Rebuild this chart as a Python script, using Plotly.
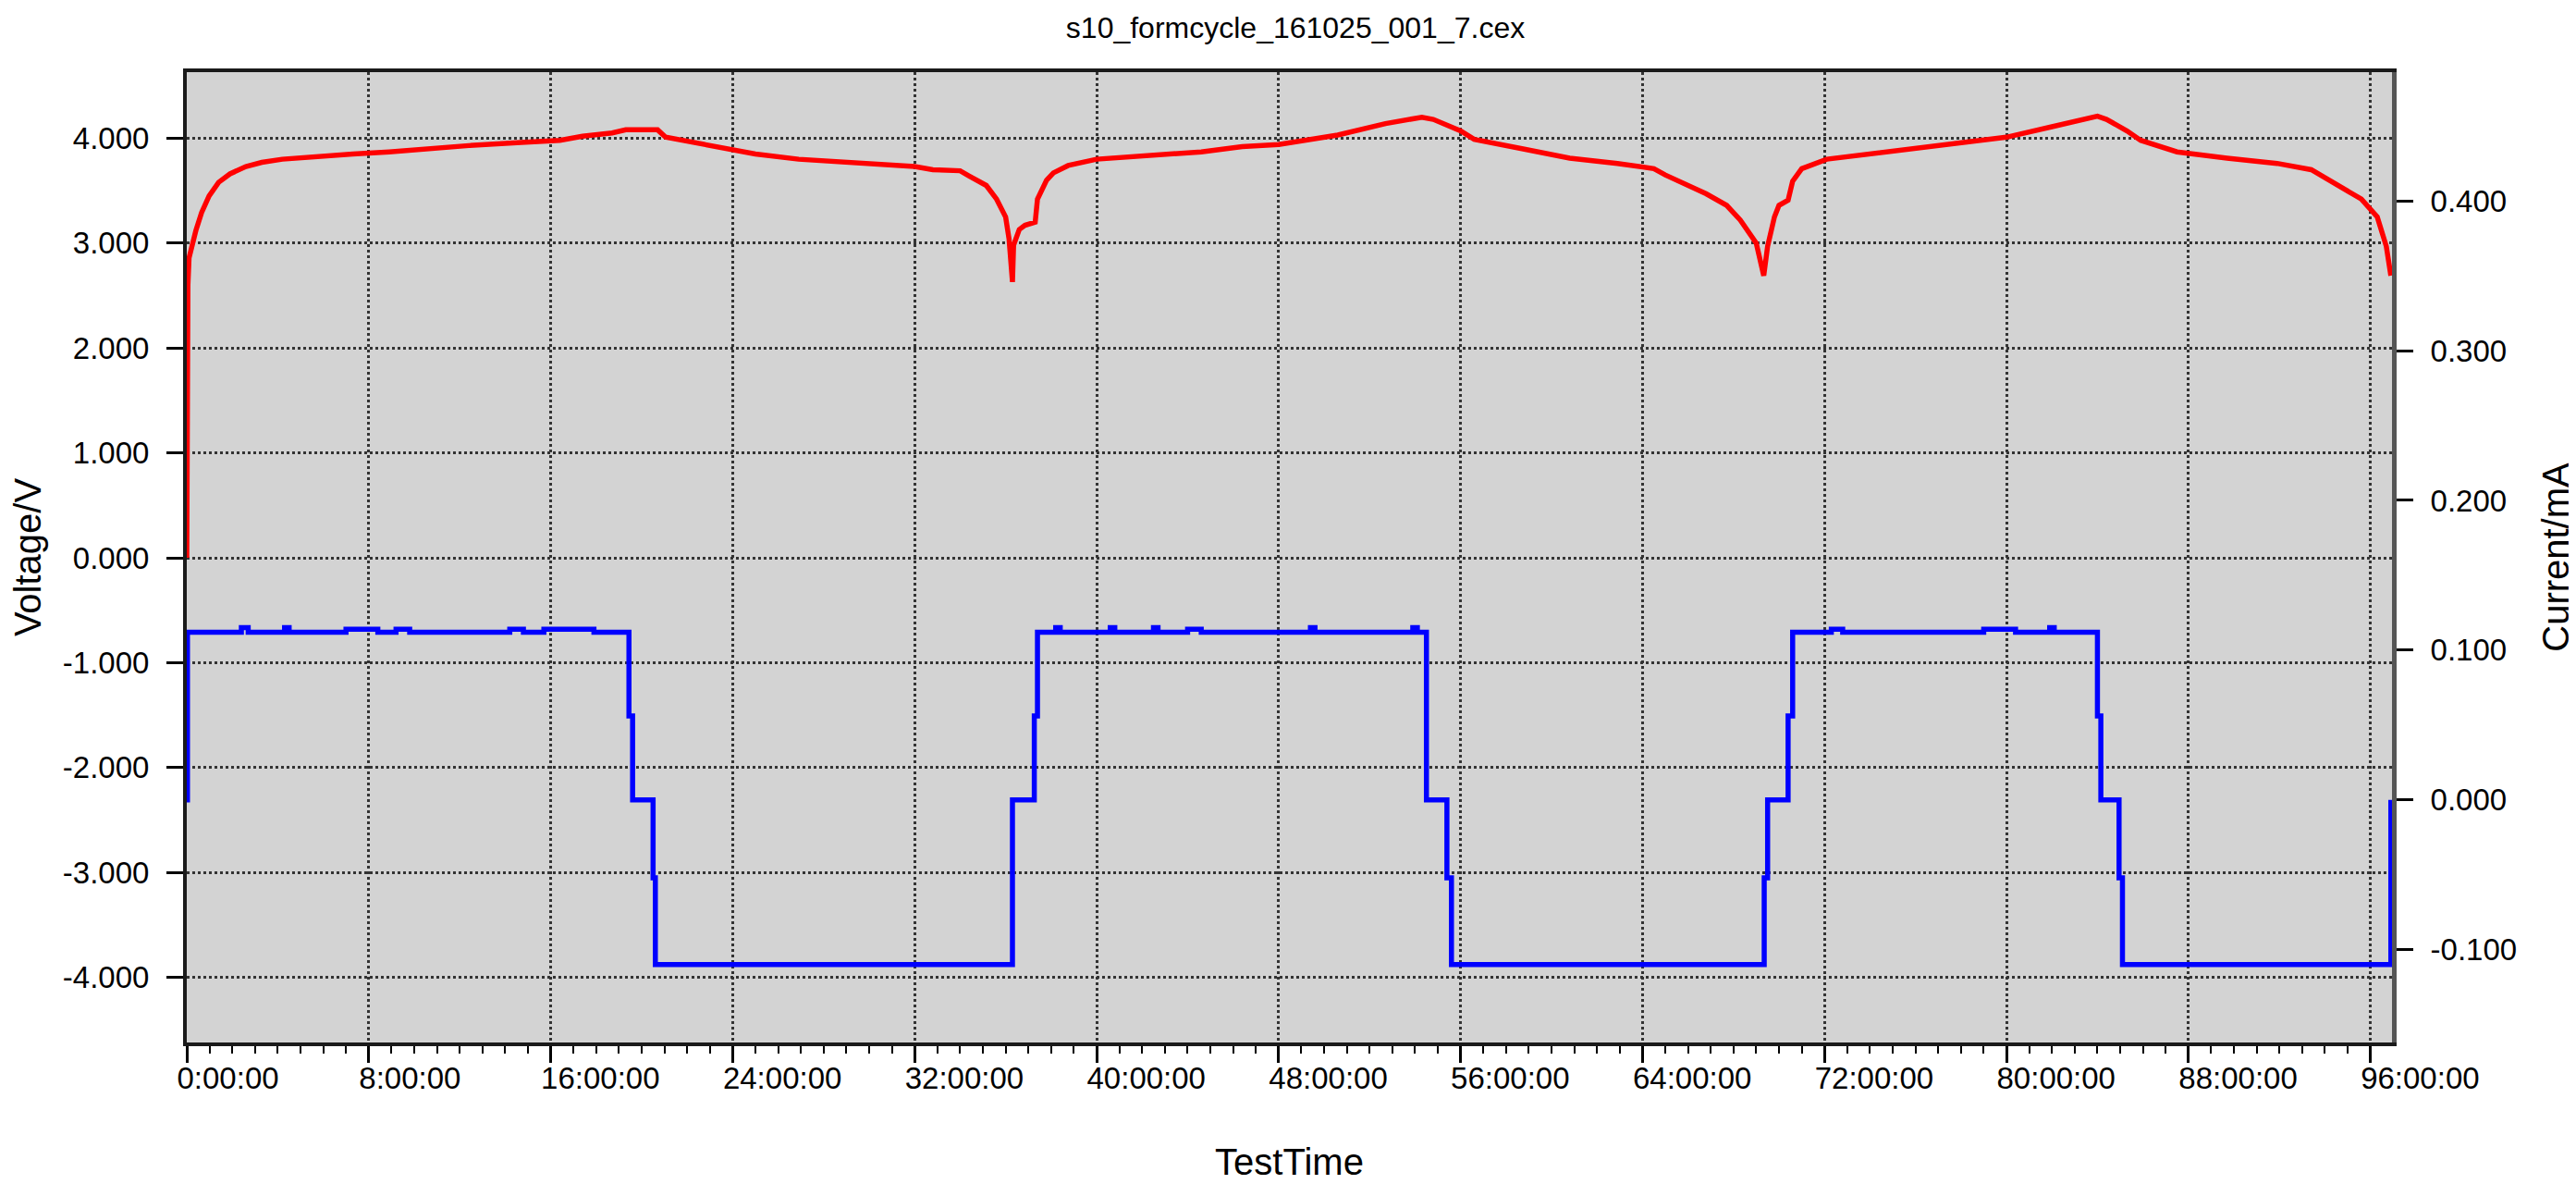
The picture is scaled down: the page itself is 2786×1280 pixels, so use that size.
import plotly.graph_objects as go

# TestTime in hours, Voltage in V
volt_time = [0.0, 0.01, 0.05, 0.1, 0.2, 0.4, 0.65, 0.98, 1.4, 1.9, 2.6, 3.3, 4.2, 5.2, 7.3,
             8.9, 10.5, 12.4, 14.7, 16.4, 17.4, 18.7, 19.3, 20.7, 21.05,
             22.0, 23.6, 25.0, 26.9, 28.8, 31.0, 32.0, 32.8, 34.0, 34.4, 35.15, 35.6, 36.0,
             36.15, 36.3,
             36.35, 36.6, 36.85, 37.3, 37.4, 37.8, 38.1, 38.75, 40.0, 42.5, 44.6, 46.4, 48.0,
             50.6, 52.7, 54.3, 54.8,
             56.0, 56.6, 58.7, 60.8, 62.9, 64.5, 65.0, 65.9, 66.8, 67.7, 68.3, 69.0, 69.33,
             69.5, 69.8, 70.0, 70.4, 70.6, 71.0, 72.1, 74.3, 76.5, 78.7, 80.0, 82.0, 83.1,
             84.0, 84.4,
             85.3, 85.9, 87.5, 89.7, 91.9, 93.4, 94.5, 95.6, 96.3, 96.7, 96.9]
voltage = [0.0, 2.22, 2.6, 2.86, 2.96, 3.12, 3.29, 3.45, 3.58, 3.66, 3.73, 3.77, 3.80, 3.82, 3.85,
           3.87, 3.90, 3.93, 3.96, 3.98, 4.02, 4.05, 4.08, 4.08, 4.01,
           3.97, 3.90, 3.85, 3.80, 3.77, 3.74, 3.73, 3.70, 3.69, 3.64, 3.55, 3.42, 3.25,
           3.04, 2.63,
           2.98, 3.13, 3.17, 3.20, 3.42, 3.60, 3.67, 3.74, 3.80, 3.84, 3.87, 3.92, 3.94,
           4.03, 4.14, 4.20, 4.18,
           4.07, 3.99, 3.90, 3.81, 3.76, 3.71, 3.65, 3.56, 3.47, 3.36, 3.22, 3.00, 2.69,
           2.97, 3.25, 3.36, 3.41, 3.59, 3.71, 3.80, 3.86, 3.92, 3.97, 4.01, 4.11, 4.16,
           4.21, 4.18,
           4.07, 3.98, 3.87, 3.81, 3.76, 3.70, 3.56, 3.42, 3.25, 2.97, 2.69]

# Current steps in mA (each value holds until the next time)
curr_time = [0.0, 0.03, 2.4, 2.7, 4.3, 4.5, 7.0, 8.4, 9.2, 9.8, 14.2, 14.8, 15.7, 17.9,
             19.44, 19.6, 20.5, 20.6,
             36.3, 37.26, 37.4, 38.2, 38.4, 40.6, 40.8, 42.5, 42.7, 44.0, 44.6, 49.4, 49.6,
             53.9, 54.1, 54.5, 55.4, 55.6,
             69.35, 69.5, 70.4, 70.6, 72.3, 72.8, 79.0, 80.4, 81.9, 82.1,
             84.0, 84.15, 84.95, 85.1, 96.9]
current = [0.0, 0.112, 0.115, 0.112, 0.115, 0.112, 0.114, 0.112, 0.114, 0.112, 0.114, 0.112, 0.114, 0.112,
           0.056, 0.0, -0.052, -0.110,
           0.0, 0.056, 0.112, 0.115, 0.112, 0.115, 0.112, 0.115, 0.112, 0.114, 0.112, 0.115, 0.112,
           0.115, 0.112, 0.0, -0.052, -0.110,
           -0.052, 0.0, 0.056, 0.112, 0.114, 0.112, 0.114, 0.112, 0.115, 0.112,
           0.056, 0.0, -0.052, -0.110, 0.0]

x_ticks = [0, 8, 16, 24, 32, 40, 48, 56, 64, 72, 80, 88, 96]
x_labels = [f"{h}:00:00" for h in x_ticks]
v_ticks = [-4, -3, -2, -1, 0, 1, 2, 3, 4]
v_labels = [f"{v:.3f}" for v in v_ticks]
i_ticks = [-0.1, 0.0, 0.1, 0.2, 0.3, 0.4]
i_labels = [f"{v:.3f}" for v in i_ticks]

FONT = "Liberation Sans, Arial, sans-serif"
GRID = "#333333"

fig = go.Figure()
fig.add_trace(go.Scatter(x=volt_time, y=voltage, mode="lines", name="Voltage",
                         line=dict(color="#ff0000", width=5.5)))
fig.add_trace(go.Scatter(x=curr_time, y=current, mode="lines", name="Current", yaxis="y2",
                         line=dict(color="#0000ff", width=5.5, shape="hv")))

fig.update_layout(
    width=2786, height=1280,
    margin=dict(l=194, r=207, t=70, b=161),
    paper_bgcolor="white", plot_bgcolor="#d3d3d3",
    font=dict(family=FONT, size=33, color="black"),
    showlegend=False,
    title=dict(text="s10_formcycle_161025_001_7.cex", x=0.5, xref="container", xanchor="center",
               y=1 - 22 / 1280, yref="container", yanchor="middle",
               font=dict(family=FONT, size=32, color="black")),
    xaxis=dict(range=[0, 96.95], tickmode="array", tickvals=x_ticks, ticktext=x_labels,
               ticks="outside", ticklen=18, tickwidth=3, tickcolor="black",
               ticklabelposition="outside right", ticklabelshift=-14, ticklabelstandoff=6,
               showgrid=True, gridcolor=GRID, gridwidth=2.5, griddash="3px,3px",
               showline=True, linecolor="#1a1a1a", linewidth=4, mirror=True,
               zeroline=False, automargin=False,
               minor=dict(tickmode="linear", tick0=0, dtick=1, ticks="outside", ticklen=8,
                          tickwidth=2, tickcolor="black", showgrid=False),
               title=dict(text="TestTime", standoff=60)),
    yaxis=dict(range=[-4.62, 4.63], tickmode="array", tickvals=v_ticks, ticktext=v_labels,
               ticks="outside", ticklen=18, tickwidth=3, tickcolor="black", ticklabelstandoff=12,
               showgrid=True, gridcolor=GRID, gridwidth=2.5, griddash="3px,3px",
               showline=True, linecolor="#1a1a1a", linewidth=4, zeroline=False,
               automargin=False,
               title=dict(text="Voltage/V", standoff=25)),
    yaxis2=dict(range=[-0.162, 0.486], overlaying="y", side="right", tickmode="array",
                tickvals=i_ticks, ticktext=i_labels,
                ticks="outside", ticklen=18, tickwidth=3, tickcolor="black", ticklabelstandoff=12,
                showgrid=False, zeroline=False, automargin=False,
                showline=True, linecolor="#555555", linewidth=5,
                title=dict(text="Current/mA", standoff=30)),
)

fig.write_html("out.html")
